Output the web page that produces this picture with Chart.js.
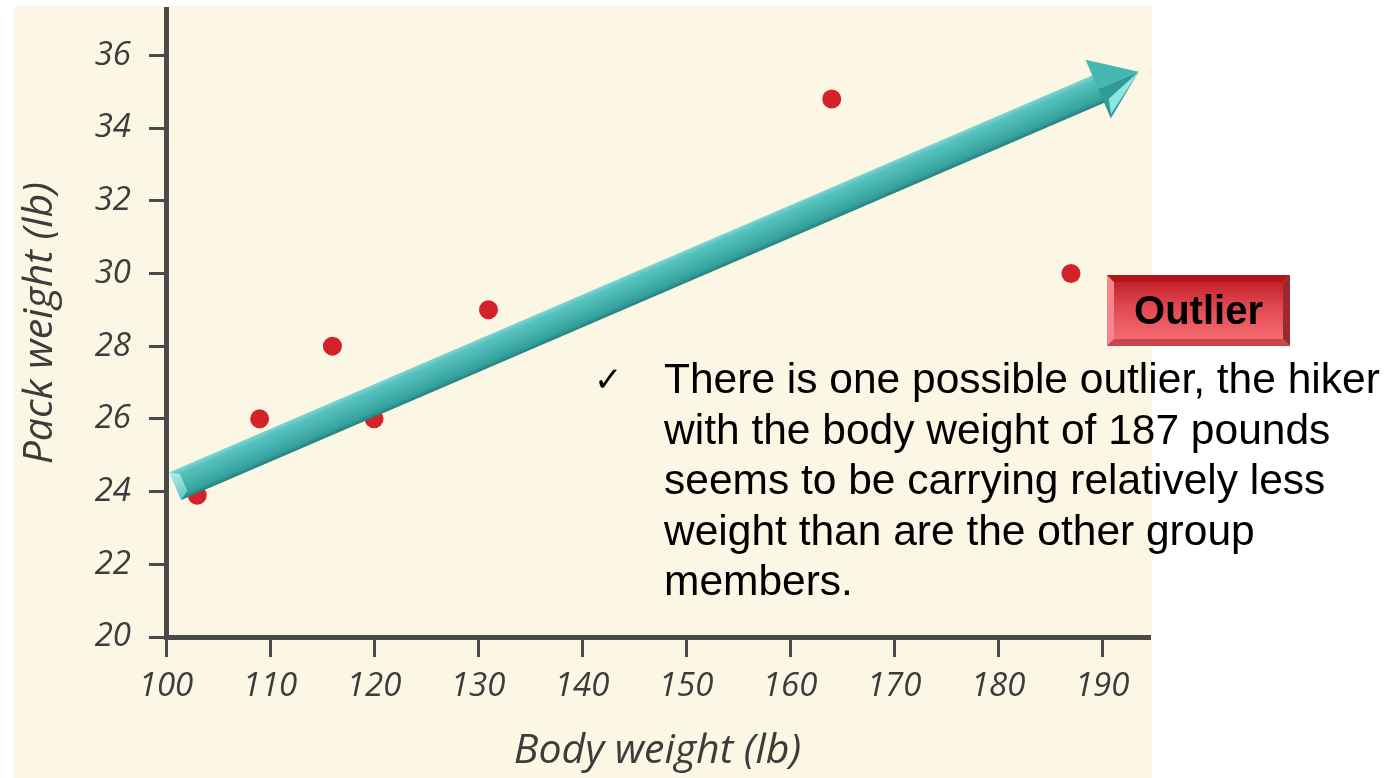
<!DOCTYPE html>
<html>
<head>
<meta charset="utf-8">
<script src="https://cdn.jsdelivr.net/npm/chart.js@4.4.1/dist/chart.umd.min.js"></script>
<style>
  html, body { margin: 0; padding: 0; background: #ffffff; overflow: hidden; }
  canvas { display: block; }
</style>
</head>
<body>
<canvas id="chart" width="1387" height="778"></canvas>
<script>
// Hikers: body weight vs. pack weight (lb)
const bodyWeight = [103, 109, 116, 120, 131, 164, 187];
const packWeight = [23.9, 26, 28, 26, 29, 34.8, 30];

const xTickValues = [100, 110, 120, 130, 140, 150, 160, 170, 180, 190];
const yTickValues = [20, 22, 24, 26, 28, 30, 32, 34, 36];

// Upward trend arrow, in data units (body weight, pack weight)
const trendFrom = [100.9, 24.15];
const trendTo = [193.5, 35.55];

const calloutLabel = 'Outlier';
const noteLines = [
  'There is one possible outlier, the hiker',
  'with the body weight of 187 pounds',
  'seems to be carrying relatively less',
  'weight than are the other group',
  'members.'
];

const INK = '#4a4a4a';
const LABEL_INK = '#3c3c3c';
const HAND_FONT = '"Open Sans", "DejaVu Sans", sans-serif';

const decorPlugin = {
  id: 'decor',
  beforeDraw(chart) {
    const ctx = chart.ctx;
    ctx.save();
    ctx.fillStyle = '#ffffff';
    ctx.fillRect(0, 0, chart.width, chart.height);
    // paper panel behind the plot
    ctx.fillStyle = '#fcf6e5';
    ctx.fillRect(14, 6, 1138, chart.height - 6);
    ctx.restore();
  },
  afterDatasetsDraw(chart) {
    const ctx = chart.ctx;
    const xs = chart.scales.x, ys = chart.scales.y;
    const p0 = { x: xs.getPixelForValue(trendFrom[0]), y: ys.getPixelForValue(trendFrom[1]) };
    const p1 = { x: xs.getPixelForValue(trendTo[0]), y: ys.getPixelForValue(trendTo[1]) };
    const dx = p1.x - p0.x, dy = p1.y - p0.y;
    const len = Math.hypot(dx, dy);
    const u = { x: dx / len, y: dy / len };
    const n = { x: -u.y, y: u.x };           // points toward the lower side of the shaft
    const hw = 15, headLen = 44, headHalf = 32;
    const at = (p, a, b) => ({ x: p.x + u.x * a + n.x * b, y: p.y + u.y * a + n.y * b });
    const neck = at(p1, -headLen, 0);

    ctx.save();
    // shaft
    const s0 = at(p0, 0, -hw), s1 = at(p0, 0, hw);
    const g = ctx.createLinearGradient(s0.x, s0.y, s1.x, s1.y);
    g.addColorStop(0, '#7fd6d2');
    g.addColorStop(0.18, '#56c2be');
    g.addColorStop(0.55, '#44b1ad');
    g.addColorStop(0.85, '#33a09c');
    g.addColorStop(1, '#257f7c');
    ctx.fillStyle = g;
    ctx.beginPath();
    const a1 = at(p0, 0, -hw), a2 = at(neck, 4, -hw), a3 = at(neck, 4, hw), a4 = at(p0, 0, hw);
    ctx.moveTo(a1.x, a1.y); ctx.lineTo(a2.x, a2.y); ctx.lineTo(a3.x, a3.y); ctx.lineTo(a4.x, a4.y);
    ctx.closePath();
    ctx.fill();

    // bevelled tail cap
    const t1 = at(p0, 0, -hw), t2 = at(p0, 9, -hw + 6), t3 = at(p0, 9, hw - 6), t4 = at(p0, 0, hw);
    const tg = ctx.createLinearGradient(t1.x, t1.y, t4.x, t4.y);
    tg.addColorStop(0, '#b5f0ec');
    tg.addColorStop(1, '#5cc6c2');
    ctx.fillStyle = tg;
    ctx.beginPath();
    ctx.moveTo(t1.x, t1.y); ctx.lineTo(t2.x, t2.y); ctx.lineTo(t3.x, t3.y); ctx.lineTo(t4.x, t4.y);
    ctx.closePath();
    ctx.fill();

    // arrow head: upper and lower facets
    const hTop = at(neck, 0, -headHalf), hBot = at(neck, 0, headHalf);
    ctx.fillStyle = '#45b6b2';
    ctx.beginPath();
    ctx.moveTo(hTop.x, hTop.y); ctx.lineTo(p1.x, p1.y); ctx.lineTo(neck.x, neck.y);
    ctx.closePath();
    ctx.fill();
    ctx.fillStyle = '#2f9c98';
    ctx.beginPath();
    ctx.moveTo(neck.x, neck.y); ctx.lineTo(p1.x, p1.y); ctx.lineTo(hBot.x, hBot.y);
    ctx.closePath();
    ctx.fill();
    // light facet at the lower back of the head
    const f1 = at(neck, 6, hw - 2), f2 = at(neck, 2, headHalf - 4);
    ctx.fillStyle = '#8fe6e4';
    ctx.beginPath();
    ctx.moveTo(f1.x, f1.y); ctx.lineTo(p1.x, p1.y); ctx.lineTo(f2.x, f2.y);
    ctx.closePath();
    ctx.fill();
    ctx.restore();
  },
  afterDraw(chart) {
    const ctx = chart.ctx;
    ctx.save();
    // callout box
    const bx = 1107, by = 275, bw = 183, bh = 71, bev = 7;
    ctx.fillStyle = '#f06a72';
    ctx.fillRect(bx, by, bw, bh);
    ctx.fillStyle = '#f7858b';
    ctx.beginPath();
    ctx.moveTo(bx, by); ctx.lineTo(bx + bev, by + bev); ctx.lineTo(bx + bev, by + bh - bev); ctx.lineTo(bx, by + bh);
    ctx.closePath(); ctx.fill();
    ctx.fillStyle = '#b5141b';
    ctx.beginPath();
    ctx.moveTo(bx, by); ctx.lineTo(bx + bw, by); ctx.lineTo(bx + bw - bev, by + bev); ctx.lineTo(bx + bev, by + bev);
    ctx.closePath(); ctx.fill();
    ctx.fillStyle = '#9a2a2e';
    ctx.beginPath();
    ctx.moveTo(bx + bw, by); ctx.lineTo(bx + bw, by + bh); ctx.lineTo(bx + bw - bev, by + bh - bev); ctx.lineTo(bx + bw - bev, by + bev);
    ctx.closePath(); ctx.fill();
    ctx.fillStyle = '#c8464c';
    ctx.beginPath();
    ctx.moveTo(bx, by + bh); ctx.lineTo(bx + bw, by + bh); ctx.lineTo(bx + bw - bev, by + bh - bev); ctx.lineTo(bx + bev, by + bh - bev);
    ctx.closePath(); ctx.fill();
    const fg = ctx.createLinearGradient(0, by + bev, 0, by + bh - bev);
    fg.addColorStop(0, '#c4222a');
    fg.addColorStop(0.45, '#e04a52');
    fg.addColorStop(1, '#f46a70');
    ctx.fillStyle = fg;
    ctx.fillRect(bx + bev, by + bev, bw - 2 * bev, bh - 2 * bev);
    ctx.fillStyle = '#000000';
    ctx.font = 'bold 40px "Liberation Sans", Arial, sans-serif';
    ctx.textAlign = 'center';
    ctx.textBaseline = 'middle';
    ctx.fillText(calloutLabel, bx + bw / 2, by + bh / 2 + 2);

    // note with check mark
    ctx.textAlign = 'left';
    ctx.textBaseline = 'alphabetic';
    ctx.font = '34px "DejaVu Sans", sans-serif';
    ctx.fillText('\u2713', 594, 391);
    ctx.font = '42.5px "Liberation Sans", Arial, sans-serif';
    noteLines.forEach((line, i) => {
      ctx.fillText(line, 664, 393 + i * 50.5);
    });
    ctx.restore();
  }
};

const handFont = (size) => ({ family: HAND_FONT, size: size, style: 'italic', weight: '400', lineHeight: 1 });

new Chart(document.getElementById('chart'), {
  type: 'scatter',
  data: {
    datasets: [{
      label: 'Hikers',
      data: bodyWeight.map((b, i) => ({ x: b, y: packWeight[i] })),
      backgroundColor: '#d3222a',
      borderWidth: 0,
      pointRadius: 9.5,
      pointHoverRadius: 9.5
    }]
  },
  options: {
    responsive: false,
    animation: false,
    events: [],
    layout: { padding: { left: 0, top: 6, right: 238, bottom: 0 } },
    plugins: { legend: { display: false }, tooltip: { enabled: false } },
    scales: {
      x: {
        type: 'linear',
        min: 100,
        max: 194.5,
        afterBuildTicks: (s) => { s.ticks = xTickValues.map(v => ({ value: v })); },
        afterFit: (s) => { s.height = 141; s.paddingLeft = 0; s.paddingRight = 0; },
        grid: { drawOnChartArea: false, drawTicks: true, tickLength: 20, color: INK, lineWidth: 3 },
        border: { color: INK, width: 5 },
        ticks: { color: LABEL_INK, font: handFont(33), padding: 13, maxRotation: 0, autoSkip: false },
        title: { display: true, text: 'Body weight (lb)', color: LABEL_INK, font: handFont(41), padding: { top: 0, bottom: 6 } }
      },
      y: {
        type: 'linear',
        min: 20,
        max: 37.26,
        afterBuildTicks: (s) => { s.ticks = yTickValues.map(v => ({ value: v })); },
        afterFit: (s) => { s.width = 166; s.paddingTop = 0; s.paddingBottom = 0; },
        grid: { drawOnChartArea: false, drawTicks: true, tickLength: 17, color: INK, lineWidth: 3 },
        border: { color: INK, width: 5 },
        ticks: { color: LABEL_INK, font: handFont(33), padding: 18, autoSkip: false },
        title: { display: true, text: 'Pack weight (lb)', color: LABEL_INK, font: handFont(41), padding: { top: 20, bottom: 0 } }
      }
    }
  },
  plugins: [decorPlugin]
});
</script>
</body>
</html>
